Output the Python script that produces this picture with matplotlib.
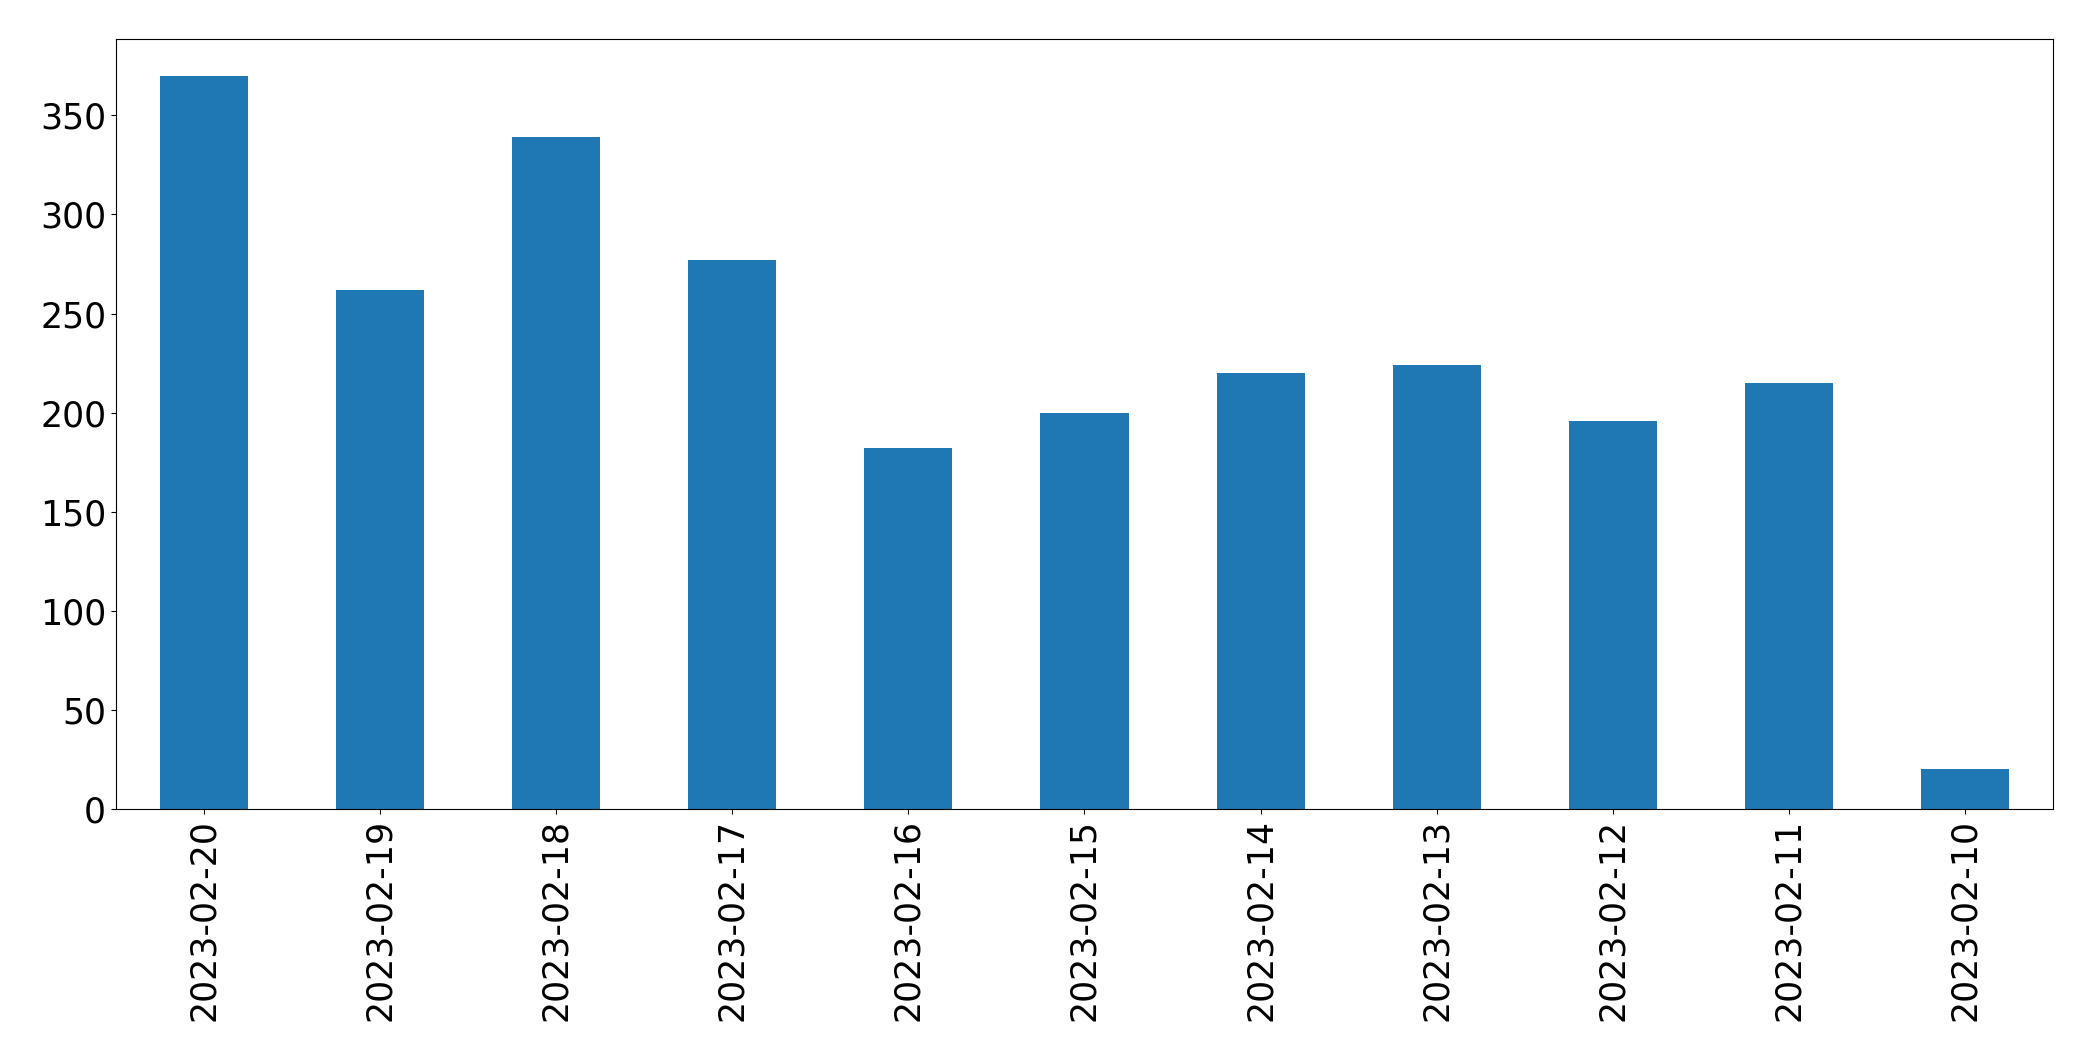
import matplotlib
matplotlib.use("Agg")
import matplotlib.pyplot as plt
import numpy as np

# daily counts, newest first (as in the reference)
dates = ["2023-02-20", "2023-02-19", "2023-02-18", "2023-02-17", "2023-02-16",
         "2023-02-15", "2023-02-14", "2023-02-13", "2023-02-12", "2023-02-11",
         "2023-02-10"]
counts = [370, 262, 339, 277, 182, 200, 220, 224, 196, 215, 20]

fig = plt.figure(figsize=(20.93, 10.61), dpi=100)
ax = fig.add_axes([0.0554, 0.2375, 0.9255, 0.7257])

x = np.arange(len(dates))
ax.bar(x, counts, width=0.5, color="#1f77b4")
ax.set_xlim(-0.5, len(dates) - 0.5)
ax.set_xticks(x)
ax.set_xticklabels(dates, rotation=90)
ax.tick_params(axis="both", labelsize=25)

fig.savefig("out.png", dpi=100)
